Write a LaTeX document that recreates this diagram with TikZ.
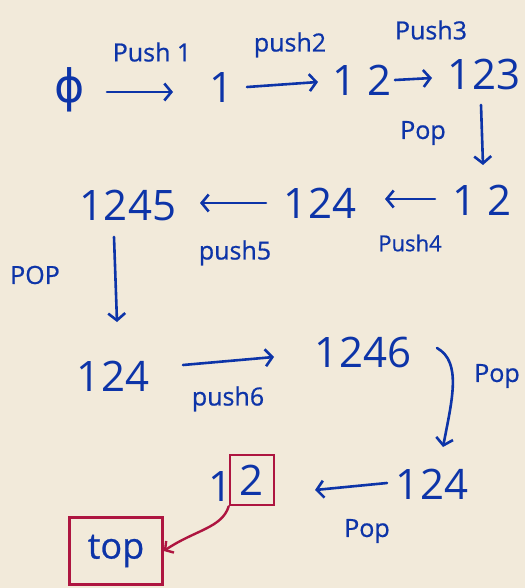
\documentclass[tikz,border=0pt]{standalone}
\usepackage{fontspec}
\setmainfont{Open Sans}
\newfontfamily\inkfont{Open Sans}[FakeBold=0.7]
\newfontfamily\symbfont{DejaVu Sans}
\usetikzlibrary{arrows.meta}
\definecolor{paper}{HTML}{F2EADA}
\definecolor{ink}{HTML}{0D34A8}
\definecolor{redink}{HTML}{AE1540}
\begin{document}
\begin{tikzpicture}[x=1pt,y=-1pt,
  stack/.style={text=ink, font=\fontsize{42}{42}\selectfont, inner sep=0pt},
  oplabel/.style={text=ink, font=\inkfont\fontsize{25}{25}\selectfont, inner sep=0pt},
  move/.style={draw=ink, line width=2.6pt, line cap=round, line join=round,
    -{Straight Barb[length=7pt,width=17pt,line width=2.6pt]}},
  topbox/.style={draw=redink, line width=2.6pt, inner sep=0pt},
  toparrow/.style={draw=redink, line width=2.4pt, line cap=round,
    -{Straight Barb[length=6pt,width=14pt,line width=2.4pt]}}
]
\fill[paper] (0,0) rectangle (525,588);
\useasboundingbox (0,0) rectangle (525,588);

% stack states
\node[stack, font=\symbfont\fontsize{46}{46}\selectfont] (s0) at (70,90) {ϕ};
\node[stack] (s1) at (222,88) {1};
\node[stack] (s2) at (362,80) {1 2};
\node[stack] (s3) at (484,75) {123};
\node[stack] (s4) at (482,200) {1 2};
\node[stack] (s5) at (320,203) {124};
\node[stack] (s6) at (128,205) {1245};
\node[stack] (s7) at (113,376) {124};
\node[stack] (s8) at (363,352) {1246};
\node[stack] (s9) at (432,484) {124};
\node[stack] (s10) at (221,487) {1};
\node[stack, topbox, minimum width=44pt, minimum height=50pt] (s10top) at (252,480) {2};

% top-of-stack marker
\node[topbox, minimum width=93pt, minimum height=67pt, text=ink,
      font=\inkfont\fontsize{36}{36}\selectfont] (toplbl) at (116,551) {top};

% operation labels
\node[oplabel] (l1) at (152,52) {Push 1};
\node[oplabel] (l2) at (290,45) {push2};
\node[oplabel] (l3) at (431,30) {Push3};
\node[oplabel] (l4) at (423,133) {Pop};
\node[oplabel, font=\inkfont\fontsize{22}{22}\selectfont] (l5) at (410,243) {Push4};
\node[oplabel] (l6) at (235,253) {push5};
\node[oplabel] (l7) at (35,275) {POP};
\node[oplabel] (l8) at (228,399) {push6};
\node[oplabel] (l9) at (497,376) {Pop};
\node[oplabel] (l10) at (367,531) {Pop};

% transitions
\draw[move] ([shift={(37,2)}]s0.center) -- ([shift={(-49,4)}]s1.center);
\draw[move] ([shift={(25,-1)}]s1.center) -- ([shift={(-44,2)}]s2.center);
\draw[move] ([shift={(33,0)}]s2.center) -- ([shift={(-52,3)}]s3.center);
\draw[move] ([shift={(-3,30)}]s3.center) -- ([shift={(1,-35)}]s4.center);
\draw[move] ([shift={(-47,-1)}]s4.center) -- ([shift={(65,-4)}]s5.center);
\draw[move] ([shift={(-54,0)}]s5.center) -- ([shift={(72,-2)}]s6.center);
\draw[move] ([shift={(-14,32)}]s6.center) -- ([shift={(4,-54)}]s7.center);
\draw[move] ([shift={(70,-11)}]s7.center) -- ([shift={(-89,5)}]s8.center);
\draw[move] ([shift={(74,-4)}]s8.center) .. controls (462,362) and (452,400) .. ([shift={(11,-37)}]s9.center);
\draw[move] ([shift={(-45,-1)}]s9.center) -- ([shift={(94,3)}]s10.center);
\draw[toparrow] (s10top.south west) .. controls (222,528) and (195,530) .. (toplbl.east);
\end{tikzpicture}
\end{document}
